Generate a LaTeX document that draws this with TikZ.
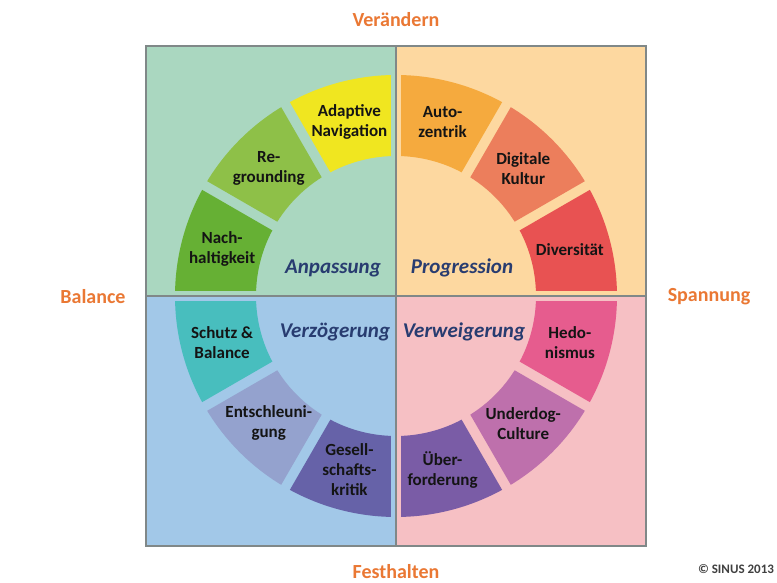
\documentclass[tikz,border=0pt]{standalone}
\usepackage{fontspec}
\setmainfont{Carlito}

\definecolor{bgTL}{RGB}{170,215,192}
\definecolor{bgTR}{RGB}{253,216,160}
\definecolor{bgBL}{RGB}{162,200,232}
\definecolor{bgBR}{RGB}{246,192,196}
\definecolor{frame}{RGB}{128,136,136}
\definecolor{axisorange}{RGB}{234,120,52}
\definecolor{quadnavy}{RGB}{40,60,112}
\definecolor{cNach}{RGB}{102,176,52}
\definecolor{cRegr}{RGB}{142,192,72}
\definecolor{cAdap}{RGB}{240,230,32}
\definecolor{cAuto}{RGB}{245,170,62}
\definecolor{cDigi}{RGB}{236,126,92}
\definecolor{cDive}{RGB}{232,82,82}
\definecolor{cHedo}{RGB}{230,92,142}
\definecolor{cUnde}{RGB}{190,112,172}
\definecolor{cUebe}{RGB}{122,92,166}
\definecolor{cGese}{RGB}{102,98,168}
\definecolor{cEnts}{RGB}{148,162,206}
\definecolor{cSchu}{RGB}{72,190,190}

\begin{document}
\begin{tikzpicture}[x=1pt, y=1pt,
  lbl/.style = {font=\bfseries\fontsize{17}{20}\selectfont, align=center, text=black!92},
  quad/.style = {font=\bfseries\itshape\fontsize{21}{25}\selectfont, text=quadnavy},
  axislbl/.style = {font=\bfseries\fontsize{20}{24}\selectfont, text=axisorange}]
	\useasboundingbox[fill=white] (-396,-287) rectangle (381,296);
	% quadrants
	\fill[bgTL] (-250,0) rectangle (0,250);
	\fill[bgTR] (0,0) rectangle (250,250);
	\fill[bgBL] (-250,-250) rectangle (0,0);
	\fill[bgBR] (0,-250) rectangle (250,0);
	% ring segments, gaps of constant width
	\foreach \a/\col/\txt [count=\i] in {
		0/cDive/{Diversität}, 30/cDigi/{Digitale\\Kultur}, 60/cAuto/{Auto-\\zentrik},
		90/cAdap/{Adaptive\\Navigation}, 120/cRegr/{Re-\\grounding}, 150/cNach/{Nach-\\haltigkeit},
		180/cSchu/{Schutz \&\\Balance}, 210/cEnts/{Entschleuni-\\gung}, 240/cGese/{Gesell-\\schafts-\\kritik},
		270/cUebe/{Über-\\forderung}, 300/cUnde/{Underdog-\\Culture}, 330/cHedo/{Hedo-\\nismus}} {
		\fill[\col] (\a+1.3:221) arc[start angle=\a+1.3, end angle=\a+28.7, radius=221]
			-- (\a+27.95:140) arc[start angle=\a+27.95, end angle=\a+2.05, radius=140] -- cycle;
		\node[lbl] (s\i) at (\a+15:180) {\txt};
	}
	% frame and axes
	\draw[frame, line width=1.5] (-250,-250) rectangle (250,250);
	\draw[frame, line width=1.5] (-250,0) -- (250,0);
	\draw[frame, line width=1.5] (0,-250) -- (0,250);
	\node[quad] (anp) at (-63,28) {Anpassung};
	\node[quad] (pro) at (66,28) {Progression};
	\node[quad] (verz) at (-61,-36) {Verzögerung};
	\node[quad] (verw) at (68,-36) {Verweigerung};
	\node[axislbl] (top) at (0,276) {Verändern};
	\node[axislbl] (bot) at (0,-276) {Festhalten};
	\node[axislbl] (lft) at (-303,-1) {Balance};
	\node[axislbl] (rgt) at (313,-1) {Spannung};
	\node[font=\bfseries\fontsize{13}{15}\selectfont, text=black!75] (copy) at (340,-273) {© SINUS 2013};
\end{tikzpicture}
\end{document}
